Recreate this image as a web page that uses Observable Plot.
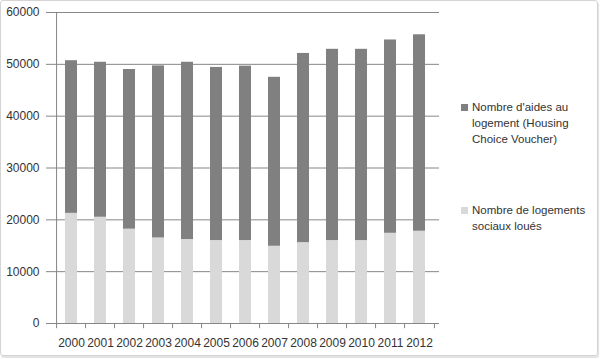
<!DOCTYPE html>
<html><head><meta charset="utf-8">
<script src="https://cdn.jsdelivr.net/npm/d3@7"></script>
<script src="https://cdn.jsdelivr.net/npm/@observablehq/plot@0.6"></script>
<style>
body{margin:0;background:#fff;}
#wrap{position:relative;width:600px;height:359px;font-family:"Liberation Sans",Arial,sans-serif;overflow:hidden;}
#wrap svg{position:absolute;left:0;top:0;}
#border{position:absolute;left:0;top:0;width:596px;height:354px;border:1px solid #d4d4d4;border-radius:3px;box-shadow:1px 2px 1px #e2e2e2;}
.leg{position:absolute;font-size:11.5px;line-height:16px;color:#333;}
.sw{position:absolute;width:7px;height:7px;}
</style></head><body>
<div id="wrap"><div id="border"></div></div>
<script>
const years = ["2000","2001","2002","2003","2004","2005","2006","2007","2008","2009","2010","2011","2012"];
const seriesNames = ["Nombre d'aides au logement (Housing Choice Voucher)", "Nombre de logements sociaux loués"];
const social   = [21250, 20500, 18200, 16500, 16200, 16000, 16000, 14900, 15600, 16000, 16000, 17400, 17800];
const vouchers = [29450, 29900, 30800, 33200, 34200, 33400, 33650, 32600, 36500, 36900, 36900, 37300, 37900];
const yTicks = [0, 10000, 20000, 30000, 40000, 50000, 60000];
const colors = ["#808080", "#d9d9d9"];

const data = years.flatMap((y, i) => [
  {year: y, series: seriesNames[1], value: social[i]},
  {year: y, series: seriesNames[0], value: vouchers[i]}
]);

const W = 600, H = 359, mL = 51, mR = 161, mT = 12, mB = 36;
const step = (W - mL - mR) / years.length;
const grid = "#868686";

const chart = Plot.plot({
  width: W, height: H, marginLeft: mL, marginRight: mR, marginTop: mT, marginBottom: mB,
  style: {fontFamily: '"Liberation Sans", Arial, sans-serif', fontSize: "12px", color: "#333", background: "transparent"},
  x: {type: "band", domain: years, paddingInner: 0.58, paddingOuter: 0.29, label: null},
  y: {domain: [0, 60000], label: null},
  color: {domain: seriesNames, range: colors},
  marks: [
    Plot.ruleY(yTicks.filter(d => d > 0), {stroke: grid, strokeWidth: 1}),
    Plot.barY(data, {x: "year", y: "value", fill: "series"}),
    Plot.ruleY([0], {stroke: grid}),
    Plot.ruleX([years[0]], {x: d => d, dx: -step / 2, y1: -1000, y2: 60000, stroke: grid}),
    Plot.ruleX(years.slice(1), {x: d => d, dx: -step / 2, y1: -1000, y2: 0, stroke: grid}),
    Plot.ruleX([years[years.length - 1]], {x: d => d, dx: step / 2, y1: -1000, y2: 0, stroke: grid}),
    Plot.axisY({ticks: yTicks, tickSize: 5, tickPadding: 7, tickFormat: d3.format("d"), stroke: grid, fill: "#333"}),
    Plot.axisX({tickSize: 0, tickPadding: 15, fill: "#333"})
  ]
});
const wrap = document.getElementById("wrap");
wrap.appendChild(chart);

function legend(i, top, lines) {
  const sw = document.createElement("div");
  sw.className = "sw";
  sw.style.left = "461px";
  sw.style.top = (top + 5) + "px";
  sw.style.background = colors[i];
  wrap.appendChild(sw);
  const t = document.createElement("div");
  t.className = "leg";
  t.style.left = "472px";
  t.style.top = top + "px";
  t.innerHTML = lines.join("<br>");
  wrap.appendChild(t);
}
legend(0, 99, ["Nombre d'aides au", "logement (Housing", "Choice Voucher)"]);
legend(1, 202, ["Nombre de logements", "sociaux loués"]);
</script>
</body></html>
